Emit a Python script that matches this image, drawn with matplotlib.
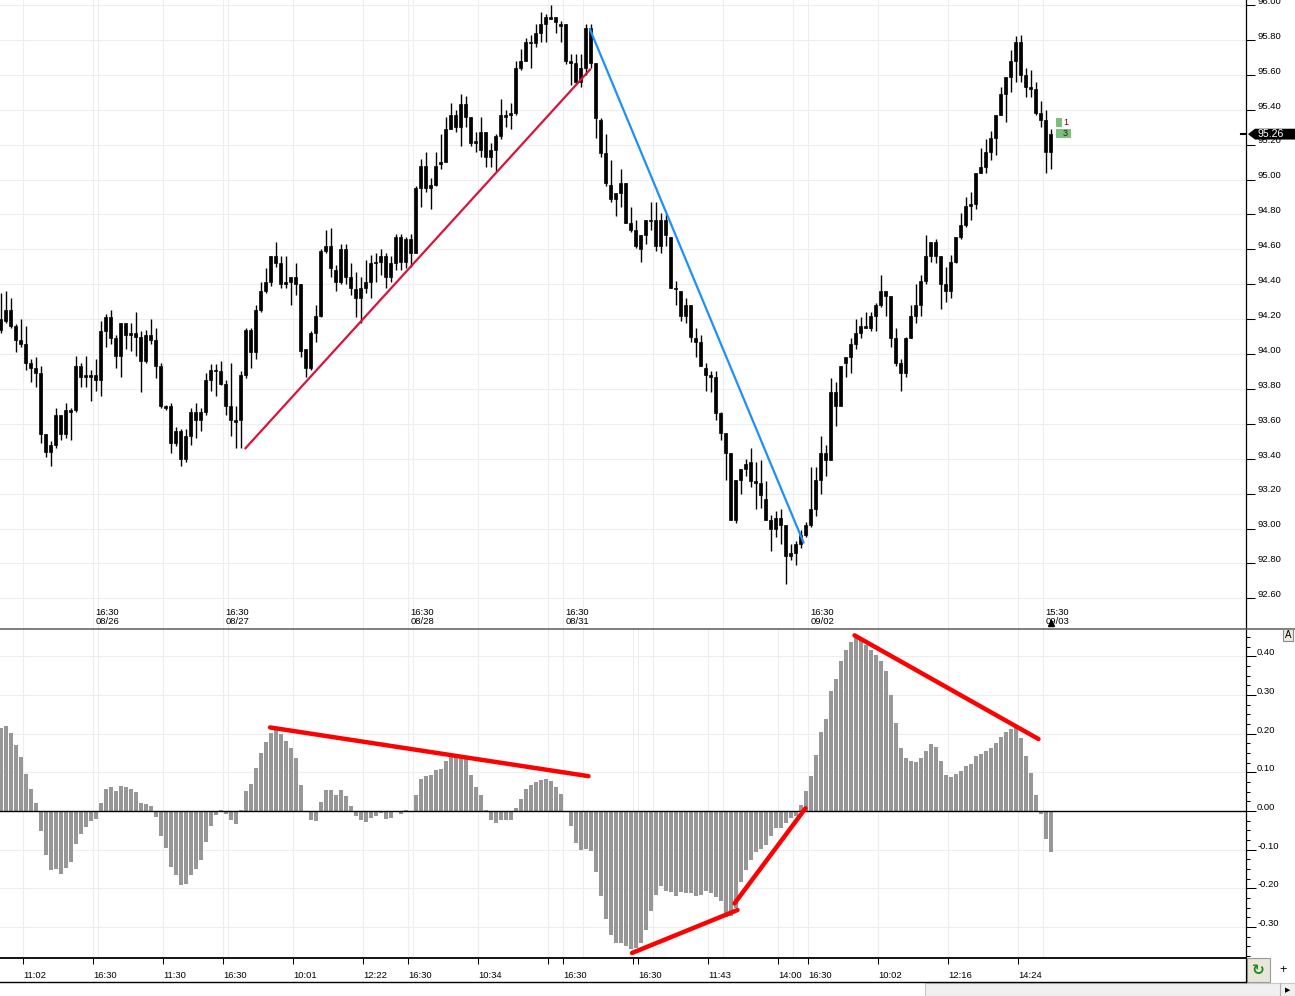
import numpy as np
import matplotlib
matplotlib.use("Agg")
import matplotlib.pyplot as plt
import matplotlib.transforms as mtransforms
from matplotlib.patches import Rectangle, Polygon
from matplotlib.lines import Line2D

plt.rcParams['font.family'] = ['Liberation Sans', 'DejaVu Sans']

# ---------------- data ----------------
opens = [94.14, 94.19, 94.25, 94.16, 94.08, 94.06, 93.95, 93.92, 93.89, 93.54,
         93.48, 93.48, 93.54, 93.54, 93.67, 93.68, 93.87, 93.88, 93.88, 93.88,
         93.85, 94.13, 94.21, 94.09, 93.99, 94.11, 94.12, 94.12, 94.10, 93.96,
         94.08, 94.08, 93.93, 93.70, 93.70, 93.56, 93.56, 93.53, 93.53, 93.62,
         93.67, 93.67, 93.85, 93.91, 93.90, 93.83, 93.70, 93.62, 93.62, 93.88,
         94.01, 94.01, 94.25, 94.36, 94.41, 94.52, 94.52, 94.41, 94.41, 94.44,
         94.40, 94.03, 93.92, 94.12, 94.22, 94.59, 94.62, 94.48, 94.41, 94.60,
         94.44, 94.37, 94.32, 94.38, 94.41, 94.52, 94.53, 94.56, 94.52, 94.52,
         94.67, 94.53, 94.58, 94.58, 94.95, 95.08, 94.97, 94.97, 95.09, 95.10,
         95.29, 95.37, 95.30, 95.36, 95.36, 95.22, 95.17, 95.27, 95.17, 95.17,
         95.25, 95.36, 95.37, 95.38, 95.64, 95.68, 95.78, 95.78, 95.84, 95.89,
         95.92, 95.93, 95.89, 95.89, 95.68, 95.67, 95.64, 95.64, 95.87, 95.67,
         95.34, 95.15, 94.97, 94.92, 94.92, 94.98, 94.75, 94.71, 94.68, 94.68,
         94.76, 94.77, 94.62, 94.77, 94.67, 94.38, 94.36, 94.22, 94.28, 94.09,
         94.07, 93.92, 93.88, 93.87, 93.66, 93.55, 93.43, 93.05, 93.28, 93.34,
         93.38, 93.27, 93.26, 93.17, 93.05, 93.00, 93.02, 93.02, 92.86, 92.86,
         92.91, 92.96, 93.02, 93.11, 93.28, 93.39, 93.39, 93.70, 93.70, 93.95,
         93.98, 94.06, 94.12, 94.15, 94.15, 94.22, 94.28, 94.33, 94.33, 94.09,
         93.95, 93.89, 94.09, 94.22, 94.28, 94.42, 94.56, 94.64, 94.56, 94.40,
         94.36, 94.53, 94.67, 94.74, 94.85, 94.86, 95.04, 95.07, 95.16, 95.24,
         95.37, 95.49, 95.59, 95.68, 95.79, 95.60, 95.53, 95.52, 95.38, 95.34,
         95.16]
highs = [94.35, 94.36, 94.32, 94.17, 94.20, 94.16, 93.97, 93.98, 93.93, 93.54,
         93.50, 93.69, 93.65, 93.72, 93.69, 93.99, 93.95, 93.99, 93.91, 93.97,
         94.19, 94.23, 94.25, 94.11, 94.18, 94.18, 94.18, 94.24, 94.13, 94.14,
         94.20, 94.15, 93.95, 93.71, 93.72, 93.58, 93.57, 93.57, 93.69, 93.72,
         93.69, 93.89, 93.94, 93.94, 93.96, 93.85, 93.95, 93.70, 93.90, 94.15,
         94.15, 94.28, 94.41, 94.49, 94.56, 94.64, 94.56, 94.56, 94.44, 94.52,
         94.40, 94.03, 94.13, 94.28, 94.60, 94.71, 94.72, 94.51, 94.63, 94.63,
         94.52, 94.47, 94.44, 94.54, 94.57, 94.58, 94.60, 94.58, 94.56, 94.69,
         94.69, 94.67, 94.69, 94.96, 95.12, 95.16, 95.01, 95.16, 95.26, 95.36,
         95.44, 95.40, 95.49, 95.48, 95.36, 95.27, 95.36, 95.27, 95.21, 95.26,
         95.46, 95.40, 95.44, 95.68, 95.75, 95.81, 95.83, 95.89, 95.96, 95.95,
         96.00, 95.93, 95.91, 95.89, 95.72, 95.72, 95.72, 95.89, 95.89, 95.67,
         95.35, 95.26, 95.11, 94.92, 95.06, 94.98, 94.84, 94.77, 94.68, 94.77,
         94.87, 94.87, 94.81, 94.80, 94.67, 94.42, 94.36, 94.32, 94.28, 94.15,
         94.11, 93.95, 93.90, 93.90, 93.67, 93.55, 93.43, 93.28, 93.34, 93.40,
         93.46, 93.38, 93.39, 93.27, 93.08, 93.10, 93.11, 93.02, 92.91, 92.93,
         92.99, 93.04, 93.35, 93.35, 93.53, 93.48, 93.86, 93.84, 93.93, 93.98,
         94.09, 94.20, 94.21, 94.24, 94.24, 94.29, 94.45, 94.36, 94.33, 94.15,
         93.97, 94.10, 94.28, 94.40, 94.45, 94.68, 94.64, 94.66, 94.56, 94.50,
         94.57, 94.67, 94.81, 94.90, 94.93, 95.04, 95.18, 95.23, 95.28, 95.37,
         95.53, 95.59, 95.74, 95.82, 95.83, 95.64, 95.63, 95.56, 95.45, 95.40,
         95.29]
lows = [94.12, 94.18, 94.15, 94.01, 94.04, 93.91, 93.84, 93.81, 93.49, 93.41,
        93.36, 93.46, 93.51, 93.52, 93.51, 93.67, 93.81, 93.81, 93.73, 93.79,
        93.76, 94.04, 94.06, 93.92, 93.87, 94.03, 94.02, 93.99, 93.78, 93.95,
        94.06, 93.86, 93.69, 93.68, 93.43, 93.47, 93.36, 93.38, 93.48, 93.52,
        93.56, 93.65, 93.79, 93.76, 93.82, 93.65, 93.53, 93.46, 93.46, 93.86,
        93.92, 93.97, 94.24, 94.35, 94.39, 94.50, 94.38, 94.38, 94.28, 94.34,
        93.98, 93.87, 93.91, 94.07, 94.21, 94.58, 94.44, 94.36, 94.40, 94.40,
        94.34, 94.21, 94.18, 94.35, 94.32, 94.41, 94.45, 94.38, 94.41, 94.48,
        94.48, 94.49, 94.50, 94.58, 94.84, 94.93, 94.83, 94.96, 95.06, 95.10,
        95.29, 95.27, 95.19, 95.30, 95.19, 95.16, 95.13, 95.07, 95.07, 95.05,
        95.23, 95.30, 95.29, 95.37, 95.63, 95.68, 95.64, 95.76, 95.79, 95.79,
        95.92, 95.84, 95.79, 95.66, 95.54, 95.55, 95.53, 95.60, 95.64, 95.24,
        95.13, 94.96, 94.87, 94.79, 94.84, 94.75, 94.70, 94.61, 94.53, 94.63,
        94.71, 94.59, 94.58, 94.62, 94.38, 94.28, 94.19, 94.18, 94.07, 93.98,
        93.93, 93.79, 93.78, 93.62, 93.51, 93.28, 93.05, 93.03, 93.20, 93.30,
        93.24, 93.11, 93.12, 93.05, 92.87, 92.95, 92.91, 92.68, 92.82, 92.79,
        92.89, 92.95, 93.01, 93.07, 93.20, 93.30, 93.39, 93.59, 93.70, 93.87,
        93.89, 94.03, 94.09, 94.15, 94.13, 94.13, 94.27, 94.22, 94.04, 93.93,
        93.79, 93.87, 94.09, 94.18, 94.22, 94.40, 94.53, 94.52, 94.26, 94.30,
        94.32, 94.52, 94.66, 94.73, 94.77, 94.83, 95.04, 95.04, 95.11, 95.14,
        95.37, 95.33, 95.50, 95.56, 95.56, 95.47, 95.47, 95.37, 95.30, 95.04,
        95.06]
closes = [94.20, 94.25, 94.16, 94.08, 94.06, 93.95, 93.92, 93.89, 93.54, 93.44,
          93.44, 93.65, 93.65, 93.68, 93.68, 93.93, 93.93, 93.87, 93.87, 93.85,
          94.13, 94.21, 94.09, 93.99, 94.18, 94.18, 94.11, 94.10, 93.96, 94.11,
          94.11, 93.93, 93.70, 93.69, 93.49, 93.49, 93.40, 93.40, 93.67, 93.67,
          93.62, 93.85, 93.91, 93.90, 93.83, 93.70, 93.62, 93.61, 93.88, 94.14,
          94.14, 94.25, 94.36, 94.41, 94.56, 94.56, 94.40, 94.40, 94.44, 94.40,
          94.02, 93.92, 94.12, 94.22, 94.59, 94.62, 94.49, 94.41, 94.60, 94.44,
          94.38, 94.32, 94.38, 94.41, 94.52, 94.53, 94.56, 94.44, 94.44, 94.67,
          94.53, 94.66, 94.66, 94.95, 95.08, 94.95, 94.95, 95.08, 95.10, 95.29,
          95.37, 95.30, 95.43, 95.43, 95.21, 95.21, 95.27, 95.13, 95.13, 95.25,
          95.37, 95.37, 95.38, 95.64, 95.68, 95.79, 95.79, 95.84, 95.89, 95.93,
          95.93, 95.90, 95.88, 95.68, 95.67, 95.56, 95.56, 95.87, 95.67, 95.35,
          95.15, 94.98, 94.89, 94.89, 94.98, 94.75, 94.71, 94.62, 94.60, 94.77,
          94.77, 94.62, 94.77, 94.68, 94.38, 94.37, 94.22, 94.28, 94.10, 94.07,
          93.93, 93.88, 93.87, 93.66, 93.55, 93.43, 93.05, 93.28, 93.34, 93.37,
          93.27, 93.26, 93.19, 93.05, 93.00, 93.06, 93.06, 92.84, 92.84, 92.91,
          92.96, 93.02, 93.11, 93.28, 93.43, 93.43, 93.78, 93.78, 93.93, 93.98,
          94.06, 94.12, 94.16, 94.16, 94.22, 94.28, 94.36, 94.36, 94.09, 93.95,
          93.89, 94.09, 94.22, 94.28, 94.42, 94.56, 94.64, 94.56, 94.40, 94.36,
          94.53, 94.67, 94.74, 94.85, 94.86, 95.04, 95.07, 95.16, 95.24, 95.37,
          95.49, 95.59, 95.68, 95.79, 95.60, 95.53, 95.52, 95.38, 95.34, 95.16,
          95.26]
osc = [0.214, 0.220, 0.201, 0.171, 0.139, 0.096, 0.057, 0.020, -0.051, -0.114,
       -0.153, -0.150, -0.163, -0.147, -0.132, -0.085, -0.059, -0.041, -0.025, -0.020,
       0.020, 0.057, 0.061, 0.052, 0.065, 0.061, 0.056, 0.048, 0.020, 0.017,
       0.013, -0.015, -0.064, -0.095, -0.144, -0.165, -0.192, -0.190, -0.165, -0.149,
       -0.127, -0.079, -0.038, -0.010, 0.003, -0.008, -0.023, -0.034, 0.003, 0.052,
       0.070, 0.110, 0.149, 0.178, 0.201, 0.209, 0.199, 0.181, 0.162, 0.136,
       0.067, 0.000, -0.023, -0.025, 0.022, 0.054, 0.054, 0.041, 0.054, 0.039,
       0.013, -0.013, -0.023, -0.028, -0.017, -0.012, -0.004, -0.021, -0.017, 0.000,
       -0.008, 0.003, 0.000, 0.041, 0.083, 0.091, 0.093, 0.106, 0.109, 0.130,
       0.141, 0.141, 0.139, 0.134, 0.093, 0.063, 0.041, 0.003, -0.023, -0.030,
       -0.023, -0.023, -0.023, 0.007, 0.031, 0.057, 0.067, 0.074, 0.080, 0.083,
       0.078, 0.063, 0.044, 0.000, -0.039, -0.082, -0.101, -0.098, -0.103, -0.157,
       -0.219, -0.279, -0.321, -0.342, -0.341, -0.350, -0.357, -0.355, -0.342, -0.308,
       -0.259, -0.217, -0.194, -0.206, -0.209, -0.219, -0.209, -0.213, -0.213, -0.219,
       -0.217, -0.207, -0.213, -0.222, -0.232, -0.273, -0.272, -0.252, -0.183, -0.153,
       -0.127, -0.105, -0.097, -0.088, -0.065, -0.045, -0.043, -0.032, -0.019, -0.012,
       0.016, 0.052, 0.091, 0.145, 0.203, 0.237, 0.309, 0.341, 0.388, 0.416,
       0.436, 0.449, 0.442, 0.429, 0.416, 0.402, 0.388, 0.363, 0.300, 0.227,
       0.164, 0.138, 0.129, 0.126, 0.136, 0.155, 0.173, 0.165, 0.129, 0.093,
       0.089, 0.096, 0.103, 0.116, 0.122, 0.141, 0.147, 0.155, 0.164, 0.177,
       0.190, 0.203, 0.211, 0.216, 0.188, 0.142, 0.097, 0.041, -0.009, -0.072,
       -0.105]

price_ticks = [92.6, 92.8, 93.0, 93.2, 93.4, 93.6, 93.8, 94.0, 94.2, 94.4,
               94.6, 94.8, 95.0, 95.2, 95.4, 95.6, 95.8, 96.0]
osc_ticks = [-0.3, -0.2, -0.1, 0.0, 0.1, 0.2, 0.3, 0.4]

session_pos = [19.0, 45.0, 82.0, 113.0, 162.0, 209.0]
session_labels = ['16:30\n08/26', '16:30\n08/27', '16:30\n08/28',
                  '16:30\n08/31', '16:30\n09/02', '15:30\n09/03']

time_tick_pos = [4.5, 18.5, 32.5, 44.5, 58.5, 72.5, 81.5, 95.5, 109.5, 112.5,
                 126.5, 127.5, 141.5, 155.5, 161.5, 175.5, 189.5, 203.5]
time_tick_labels = ['11:02', '16:30', '11:30', '16:30', '10:01', '12:22', '16:30',
                    '10:34', '', '16:30', '', '16:30', '11:43', '14:00', '16:30',
                    '10:02', '12:16', '14:24']

grid_x = [4.5, 18.5, 19.5, 32.5, 44.5, 45.5, 58.5, 72.5, 81.5, 82.5, 95.5,
          109.5, 112.5, 116.5, 130.5, 144.5, 158.5, 161.5, 175.5, 189.5,
          203.5, 208.5]

red_trend_x, red_trend_y = [49.0, 117.9], [93.46, 95.63]
blue_trend_x, blue_trend_y = [117.9, 160.6], [95.86, 92.92]
osc_trend_x = [[53.9, 117.6], [126.3, 147.4], [146.8, 161.0], [170.8, 207.6]]
osc_trend_y = [[0.216, 0.090], [-0.367, -0.256], [-0.239, 0.007], [0.454, 0.186]]

profile_levels = [95.327, 95.264]
profile_counts = [1, 3]

last_price = closes[-1]

# ---------------- figure ----------------
FW, FH = 1295, 996
fig = plt.figure(figsize=(FW / 100, FH / 100), dpi=100)
fig.patch.set_facecolor('white')


def fx(px):
    return px / FW


def fy(py):
    return 1 - py / FH


ax1 = fig.add_axes([0, fy(628), fx(1246), 628 / FH])
ax2 = fig.add_axes([0, fy(958), fx(1246), (958 - 628) / FH])

GRID = '#eeeeee'
FS = 6.8

idx = np.arange(len(opens))
o = np.array(opens); c = np.array(closes)
h = np.array(highs); l = np.array(lows)

# ---- top panel: candles ----
ax1.set_xlim(-0.1, 249.1)
ax1.set_ylim(92.4298, 96.0287)
for gx in grid_x:
    ax1.axvline(gx, color=GRID, lw=0.8, zorder=0)
ax1.set_yticks(price_ticks)
ax1.grid(axis='y', color=GRID, lw=0.8, zorder=0)
ax1.set_axisbelow(True)

ax1.vlines(idx, l, h, color='black', lw=1.0, zorder=3)
ax1.bar(idx, np.abs(c - o), bottom=np.minimum(o, c), width=0.76,
        color='black', edgecolor='black', linewidth=0.5, zorder=4)

ax1.plot(red_trend_x, red_trend_y, color='#d8143c', lw=1.6, zorder=5)
ax1.plot(blue_trend_x, blue_trend_y, color='#1e8fff', lw=1.6, zorder=5)

ax1.tick_params(axis='y', left=False, right=True, labelleft=False, labelright=False,
                length=6.5, width=0.75, direction='out', color='black')
ax1.tick_params(axis='x', bottom=False, labelbottom=False)
for s in ax1.spines.values():
    s.set_visible(False)

for v in price_ticks:
    ax1.annotate(f'{v:.2f}', xy=(1, v), xycoords=('axes fraction', 'data'),
                 xytext=(8, 0.8), textcoords='offset points', ha='left',
                 va='baseline', fontsize=FS, annotation_clip=False)

for pos, lab in zip(session_pos, session_labels):
    ax1.annotate(lab, xy=(pos, 0), xycoords=('data', 'axes fraction'),
                 xytext=(0, 8), textcoords='offset points', ha='left', va='center',
                 fontsize=FS, linespacing=1.0)

ax1.plot([idx[-1]], [92.458], marker='^', color='black', ms=4.5, zorder=6,
         clip_on=False)

# volume-at-price style markers
for lev, cnt in zip(profile_levels, profile_counts):
    ax1.add_patch(Rectangle((idx[-1] + 1.1, lev - 0.027), 0.3 + 0.9 * cnt, 0.054,
                            facecolor='#7cbf7c', edgecolor='none', zorder=5))
    ax1.text(idx[-1] + 2.5, lev, str(cnt), fontsize=6.5, ha='left', va='center',
             color='#7a0000' if cnt == 1 else '#202020', zorder=6)

# last price tag
blend = mtransforms.blended_transform_factory(fig.transFigure, ax1.transData)
hh = 0.031
tag = Polygon([(fx(1248), last_price), (fx(1255), last_price + hh),
               (fx(1295), last_price + hh), (fx(1295), last_price - hh),
               (fx(1255), last_price - hh)], closed=True, transform=blend,
              facecolor='black', edgecolor='none', clip_on=False, zorder=10)
fig.add_artist(tag)
fig.add_artist(Line2D([fx(1241), fx(1246)], [last_price, last_price], transform=blend,
                      color='black', lw=1.5))
fig.text(fx(1258), last_price, f'{last_price:.2f}', transform=blend, color='white',
         fontsize=7.6, ha='left', va='center', zorder=11)

# ---- bottom panel: oscillator histogram ----
ax2.set_xlim(-0.1, 249.1)
ax2.set_ylim(-0.380, 0.473)
for gx in grid_x + time_tick_pos:
    ax2.axvline(gx, color=GRID, lw=0.8, zorder=0)
ax2.set_yticks(osc_ticks)
ax2.set_yticks([t / 1000 for t in range(-375, 451, 25)], minor=True)
ax2.grid(axis='y', which='major', color=GRID, lw=0.8, zorder=0)
ax2.set_axisbelow(True)

ax2.bar(idx, osc, width=0.8, color='#979797', zorder=2)
ax2.axhline(0, color='black', lw=1.0, zorder=3)
for xs, ys in zip(osc_trend_x, osc_trend_y):
    ax2.plot(xs, ys, color='#ff0000', lw=3.2, solid_capstyle='round', zorder=5)

ax2.tick_params(axis='y', which='major', left=False, right=True, labelleft=False,
                labelright=False, length=7.2, width=0.75, direction='out')
ax2.tick_params(axis='y', which='minor', left=False, right=True, length=2.9,
                width=0.75, direction='out')
ax2.set_xticks(time_tick_pos)
ax2.set_xticklabels([])
ax2.tick_params(axis='x', length=4.3, width=0.75, direction='out')
for s in ax2.spines.values():
    s.set_visible(False)
ax2.spines['bottom'].set_visible(True)
ax2.spines['bottom'].set_linewidth(1.3)

for v in osc_ticks:
    ax2.annotate(f'{v:.2f}', xy=(1, v), xycoords=('axes fraction', 'data'),
                 xytext=(8, 0.8), textcoords='offset points', ha='left',
                 va='baseline', fontsize=FS, annotation_clip=False)
for pos, lab in zip(time_tick_pos, time_tick_labels):
    if lab:
        ax2.annotate(lab, xy=(pos, 0), xycoords=('data', 'axes fraction'),
                     xytext=(0.3, -9.5), textcoords='offset points', ha='left',
                     va='top', fontsize=FS, annotation_clip=False)

# ---- frame lines & widgets ----
fig.add_artist(Line2D([fx(1246), fx(1246)], [fy(0), fy(982)], color='black', lw=0.9))
fig.add_artist(Line2D([0, 1], [fy(628.5), fy(628.5)], color='#5a5a5a', lw=1.1))
fig.add_artist(Line2D([0, fx(1246)], [fy(982), fy(982)], color='black', lw=1.0))

fig.text(fx(1288), fy(635), 'A', fontsize=7, ha='center', va='center',
         bbox=dict(boxstyle='square,pad=0.15', fc='#efebde', ec='#8c8c8c', lw=0.8))

fig.add_artist(Rectangle((fx(1247), fy(982)), fx(23), 24 / FH, transform=fig.transFigure,
                         facecolor='#e9e5d7', edgecolor='#9a9a9a', lw=0.8))
fig.text(fx(1258.5), fy(970.5), '\u21bb', color='#1c8c1c', fontsize=11,
         fontweight='bold', ha='center', va='center', family='DejaVu Sans')
fig.text(fx(1283), fy(970), '+', color='black', fontsize=9, ha='center', va='center')

fig.add_artist(Rectangle((fx(925), 0), fx(370), 13 / FH, transform=fig.transFigure,
                         facecolor='#f0f0f0', edgecolor='#c8c8c8', lw=0.8))
fig.add_artist(Line2D([fx(1280), fx(1280)], [0, fy(983)], color='#b0b0b0', lw=0.8))
fig.text(fx(1288), fy(990), '\u25b6', color='black', fontsize=5, ha='center',
         va='center', family='DejaVu Sans')

fig.savefig('out.png', dpi=100)
